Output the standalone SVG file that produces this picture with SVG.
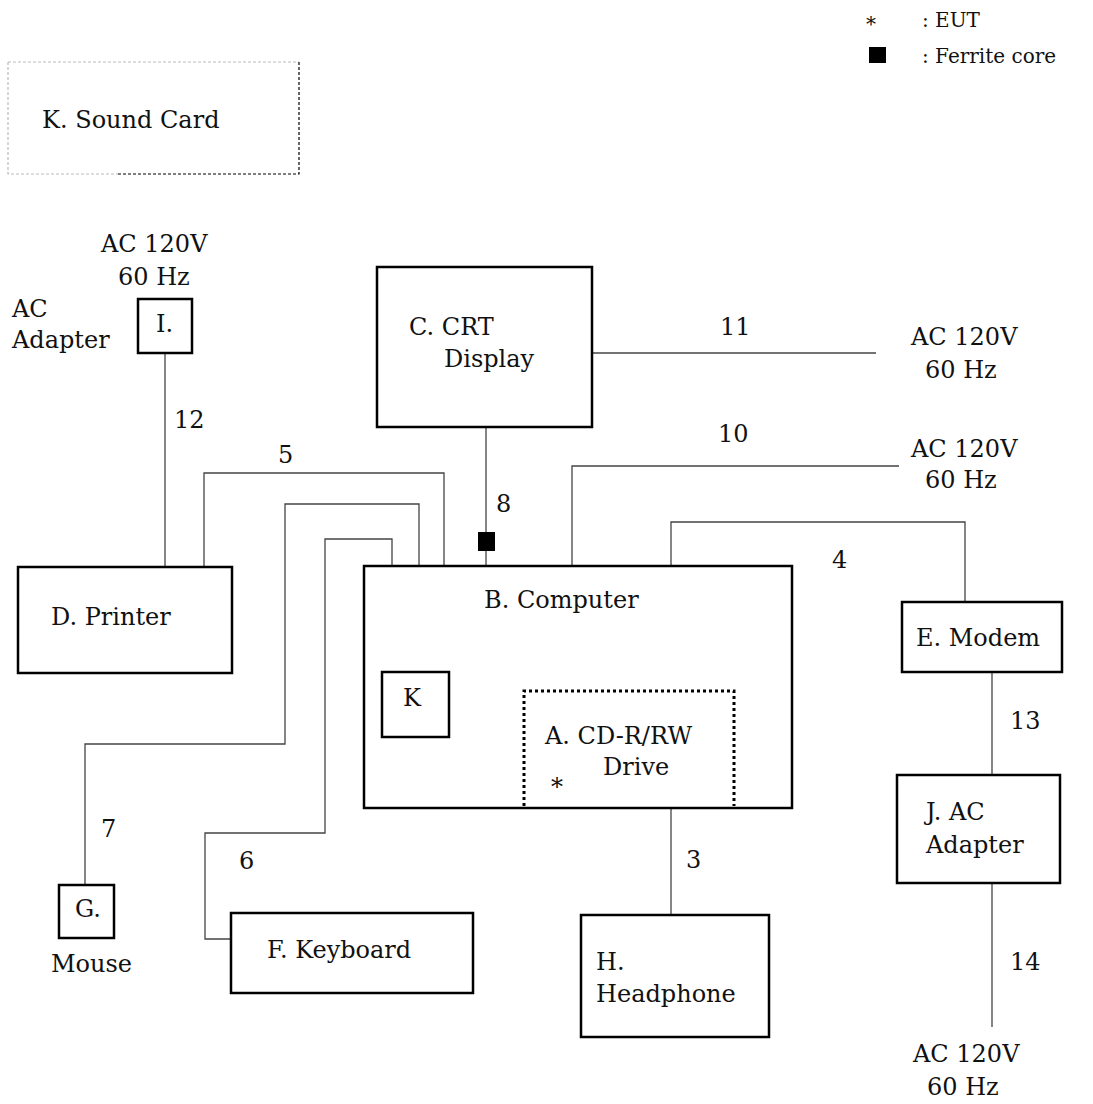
<svg xmlns="http://www.w3.org/2000/svg" width="1093" height="1104" viewBox="0 0 1093 1104">
<style>
text{font-family:"DejaVu Serif","Liberation Serif",serif;font-size:24px;fill:#111}
.leg{font-size:20px}
.box{fill:#fff;stroke:#000;stroke-width:2.5}
.w{fill:none;stroke:#444;stroke-width:1.3}
.dk{fill:none;stroke:#000;stroke-width:1.2;stroke-dasharray:3 2}
.dg{fill:none;stroke:#bbb;stroke-width:1.2;stroke-dasharray:3 2}
.dot{fill:none;stroke:#000;stroke-width:3;stroke-dasharray:3 3}
</style>
<rect width="1093" height="1104" fill="#fff"/>
<g id="legend">
<text class="leg" x="866" y="31">*</text>
<text class="leg" x="922" y="27">: EUT</text>
<rect x="869" y="47" width="17" height="16" fill="#000"/>
<text class="leg" x="922" y="63">: Ferrite core</text>
</g>
<g id="node-K-soundcard">
<path class="dg" d="M8,62 V174 H118 M8,62 H299"/>
<path class="dk" d="M118,174 H299 V62"/>
<text x="42" y="128">K. Sound Card</text>
</g>
<g id="connectors">
<path class="w" d="M165,353 V567"/>
<path class="w" d="M204,567 V473 H444 V566"/>
<path class="w" d="M85,885 V744 H285 V504 H419 V566"/>
<path class="w" d="M231,939 H205 V833 H325 V539 H392 V566"/>
<path class="w" d="M486,427 V566"/>
<rect x="478" y="532" width="17" height="19" fill="#000"/>
<path class="w" d="M592,353 H876"/>
<path class="w" d="M572,566 V466 H899"/>
<path class="w" d="M671,566 V522 H965 V602"/>
<path class="w" d="M671,808 V915"/>
<path class="w" d="M992,672 V775"/>
<path class="w" d="M992,883 V1027"/>
<path class="dk" d="M453,714 H522"/>
<path class="dg" d="M524,757 H446"/>
<path class="dk" d="M446,757 V808"/>
<path class="dk" d="M683,691 V651"/>
<path class="dg" d="M683,651 H792"/>
<text x="174" y="428">12</text>
<text x="278" y="463">5</text>
<text x="496" y="512">8</text>
<text x="720" y="335">11</text>
<text x="718" y="442">10</text>
<text x="832" y="568">4</text>
<text x="718" y="640">9</text>
<text x="466" y="687">1</text>
<text x="410" y="782">2</text>
<text x="686" y="868">3</text>
<text x="101" y="837">7</text>
<text x="239" y="869">6</text>
<text x="1010" y="729">13</text>
<text x="1010" y="970">14</text>
<text x="101" y="252">AC 120V</text>
<text x="118" y="285">60 Hz</text>
<text x="911" y="345">AC 120V</text>
<text x="925" y="378">60 Hz</text>
<text x="911" y="457">AC 120V</text>
<text x="925" y="488">60 Hz</text>
<text x="913" y="1062">AC 120V</text>
<text x="927" y="1095">60 Hz</text>
</g>
<g id="node-I">
<rect class="box" x="138" y="299" width="54" height="54"/>
<text x="156" y="332">I.</text>
<text x="12" y="317">AC</text>
<text x="12" y="348">Adapter</text>
</g>
<g id="node-C">
<rect class="box" x="377" y="267" width="215" height="160"/>
<text x="409" y="335">C. CRT</text>
<text x="444" y="367">Display</text>
</g>
<g id="node-D">
<rect class="box" x="18" y="567" width="214" height="106"/>
<text x="51" y="625">D. Printer</text>
</g>
<g id="node-B">
<rect class="box" x="364" y="566" width="428" height="242"/>
<text x="484" y="608">B. Computer</text>
</g>
<g id="node-K">
<rect class="box" x="382" y="672" width="67" height="65"/>
<text x="403" y="706">K</text>
</g>
<g id="node-A">
<path class="dot" d="M524,806 V691 H734 V806"/>
<text x="545" y="744">A. CD-R/RW</text>
<text x="603" y="775">Drive</text>
<text x="551" y="795">*</text>
</g>
<g id="node-E">
<rect class="box" x="902" y="602" width="160" height="70"/>
<text x="916" y="646">E. Modem</text>
</g>
<g id="node-J">
<rect class="box" x="897" y="775" width="163" height="108"/>
<text x="926" y="820">J. AC</text>
<text x="926" y="853">Adapter</text>
</g>
<g id="node-G">
<rect class="box" x="59" y="885" width="55" height="53"/>
<text x="75" y="917">G.</text>
<text x="51" y="972">Mouse</text>
</g>
<g id="node-F">
<rect class="box" x="231" y="913" width="242" height="80"/>
<text x="267" y="958">F. Keyboard</text>
</g>
<g id="node-H">
<rect class="box" x="581" y="915" width="188" height="122"/>
<text x="596" y="970">H.</text>
<text x="596" y="1002">Headphone</text>
</g>
</svg>
